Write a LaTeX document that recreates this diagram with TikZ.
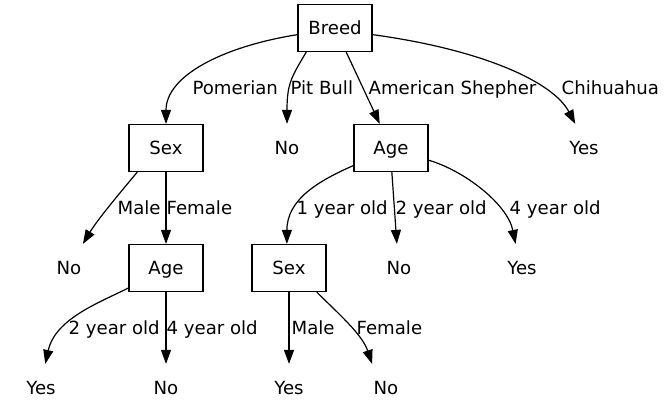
\documentclass[tikz,border=0pt]{standalone}
\usepackage{fontspec}
\setmainfont{DejaVu Sans}
\usetikzlibrary{arrows.meta, positioning}
\tikzstyle{split} = [rectangle, draw = black, minimum width = 55.5pt, minimum height = 35.25pt,
inner sep = 0pt, text height = 9.9pt, text depth = 0pt]
\tikzstyle{leaf} = [rectangle, minimum width = 55.5pt, minimum height = 35.25pt,
inner sep = 0pt, text height = 9.9pt, text depth = 0pt]
\tikzstyle{lab} = [anchor = base west, inner sep = 0pt]
\tikzstyle{arrow} = [-{Triangle[length = 10.5pt, width = 7.5pt]}]

\begin{document}
\begin{tikzpicture} [x = 0.75pt, y = -0.75pt, node distance = 90pt, line width = 0.9pt,
font = \fontsize{13.6pt}{16pt}\selectfont]
\useasboundingbox (0,0) rectangle (668,419);
\node (breed) [split] at (335,28) {Breed};

\node (sex) [split, below of = breed, xshift = -126.75pt] {Sex};
\node (pitno) [leaf, below of = breed, xshift = -36pt] {No};
\node (age) [split, below of = breed, xshift = 42pt] {Age};
\node (chiyes) [leaf, below of = breed, xshift = 186.75pt] {Yes};

\node (maleno) [leaf, below of = sex, xshift = -72.75pt] {No};
\node (femage) [split, below of = sex] {Age};
\node (onesex) [split, below of = age, xshift = -76.5pt] {Sex};
\node (twono) [leaf, below of = age, xshift = 6pt] {No};
\node (fouryes) [leaf, below of = age, xshift = 98.25pt] {Yes};

\node (twoyes) [leaf, below of = femage, xshift = -93.75pt] {Yes};
\node (fourno) [leaf, below of = femage] {No};
\node (maleyes) [leaf, below of = onesex] {Yes};
\node (femno) [leaf, below of = onesex, xshift = 72.75pt] {No};

% edge labels
\node (lpom) [lab] at (192,94) {Pomerian};
\node (lpit) [lab] at (290,94) {Pit Bull};
\node (lame) [lab] at (368,94) {American Shepher};
\node (lchi) [lab] at (561,94) {Chihuahua};
\node (lmale) [lab] at (117,214) {Male};
\node (lfem) [lab] at (166,214) {Female};
\node (lone) [lab] at (296,214) {1 year old};
\node (ltwo) [lab] at (395,214) {2 year old};
\node (lfour) [lab] at (509,214) {4 year old};
\node (ltwob) [lab] at (68,334) {2 year old};
\node (lfourb) [lab] at (166,334) {4 year old};
\node (lmaleb) [lab] at (291,334) {Male};
\node (lfemb) [lab] at (356,334) {Female};

\draw[arrow] (breed.190) .. controls +(-75,12) and +(0,-48) .. (sex.north);
\draw[arrow] (breed.220) .. controls +(-15,25) and +(0,-40) .. (pitno.north);
\draw[arrow] (breed.295) -- (age.115);
\draw[arrow] (breed.350) .. controls +(110,15) and +(-22,-42) .. (chiyes.110);

\draw[arrow] (sex.220) .. controls +(-15,18) and +(15,-25) .. (maleno.60);
\draw[arrow] (sex.south) -- (femage.north);
\draw[arrow] (age.205) .. controls +(-34,15) and +(0,-45) .. (onesex.95);
\draw[arrow] (age.272) -- (twono.95);
\draw[arrow] (age.342) .. controls +(35,10) and +(-8,-40) .. (fouryes.105);

\draw[arrow] (femage.208) .. controls +(-30,15) and +(10,-45) .. (twoyes.80);
\draw[arrow] (femage.south) -- (fourno.north);
\draw[arrow] (onesex.south) -- (maleyes.north);
\draw[arrow] (onesex.319) .. controls +(20,20) and +(-10,-30) .. (femno.120);
\end{tikzpicture}
\end{document}
